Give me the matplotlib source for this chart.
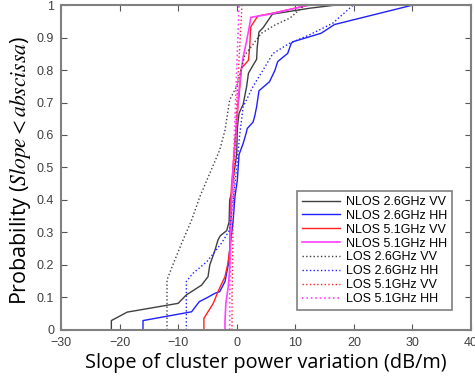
import matplotlib
matplotlib.use("Agg")
import matplotlib.pyplot as plt

plt.rcParams['font.family'] = ['Liberation Sans', 'DejaVu Sans']
plt.rcParams['mathtext.fontset'] = 'stix'

# NLOS curves (solid)
nlos26vv_x = [-21.4, -21.4, -18.7, -10.0, -8.6, -6.0, -4.9, -4.6, -3.7, -3.2, -2.8, -1.7, -1.3,
              -1.2, -0.9, -0.5, 0.0, 0.1, 0.4, 1.1, 1.4, 1.7, 2.0, 2.8, 3.4, 3.5, 3.8, 4.5, 6.1, 12.4, 17.0]
nlos26vv_y = [0, 0.029, 0.055, 0.082, 0.108, 0.138, 0.164, 0.2, 0.246, 0.277, 0.29, 0.306, 0.333,
              0.4, 0.42, 0.48, 0.54, 0.62, 0.667, 0.694, 0.722, 0.75, 0.79, 0.815, 0.833, 0.87, 0.917, 0.93, 0.972, 0.99, 1.0]

nlos26hh_x = [-16.0, -16.0, -7.7, -6.4, -5.0, -3.7, -2.9, -2.0, -1.45, -1.2, -0.6, -0.3, 0.1, 0.4, 1.1,
              1.6, 1.8, 2.8, 3.1, 3.4, 3.8, 5.6, 6.5, 7.0, 8.7, 9.3, 9.6, 14.4, 16.7, 30.1]
nlos26hh_y = [0, 0.029, 0.056, 0.087, 0.1, 0.113, 0.118, 0.149, 0.2, 0.246, 0.338, 0.41, 0.46, 0.54, 0.574,
              0.605, 0.62, 0.64, 0.66, 0.687, 0.736, 0.764, 0.798, 0.826, 0.851, 0.882, 0.887, 0.913, 0.94, 1.0]

nlos51vv_x = [-5.6, -5.6, -4.0, -3.2, -2.0, -1.5, -1.2, -1.1, -0.9, -0.6, -0.3, 0.0, 0.1, 0.4, 0.8,
              2.0, 2.2, 2.4, 3.6, 5.9, 12.4]
nlos51vv_y = [0, 0.036, 0.082, 0.118, 0.164, 0.205, 0.246, 0.35, 0.44, 0.51, 0.585, 0.626, 0.667, 0.72, 0.805,
              0.83, 0.867, 0.933, 0.966, 0.974, 1.0]

nlos51hh_x = [-2.0, -2.0, -1.85, -1.45, -1.2, -0.9, -0.6, -0.3, 0.0, 0.3, 0.7, 1.1, 1.7, 2.2, 2.4, 5.7, 12.4]
nlos51hh_y = [0, 0.03, 0.082, 0.133, 0.185, 0.4, 0.5, 0.57, 0.646, 0.72, 0.79, 0.84, 0.89, 0.938, 0.962, 0.972, 1.0]

# LOS curves (dotted)
los26vv_x = [-11.9, -11.9, -10.8, -9.4, -7.7, -6.3, -4.6, -2.9, -2.0, -1.2, 0.0, 1.4, 4.2, 6.5, 9.1, 11.6]
los26vv_y = [0, 0.154, 0.205, 0.267, 0.338, 0.41, 0.482, 0.554, 0.615, 0.708, 0.75, 0.846, 0.913, 0.938, 0.96, 1.0]

los26hh_x = [-8.6, -8.6, -7.5, -5.1, -2.6, -1.2, -0.6, 0.0, 0.5, 1.1, 2.8, 4.5, 6.2, 9.0, 12.4, 16.4, 19.9]
los26hh_y = [0, 0.149, 0.174, 0.21, 0.267, 0.308, 0.4, 0.5, 0.6, 0.687, 0.75, 0.8, 0.851, 0.882, 0.908, 0.944, 1.0]

los51vv_x = [-0.8, -0.8, -0.6, -0.3, 0.0, 0.3, 0.6, 0.9]
los51vv_y = [0, 0.1, 0.35, 0.55, 0.7, 0.8, 0.9, 1.0]

los51hh_x = [-1.2, -1.2, -1.0, -0.6, -0.2, 0.1, 0.4]
los51hh_y = [0, 0.1, 0.3, 0.5, 0.7, 0.85, 1.0]

labels = ['NLOS 2.6GHz VV', 'NLOS 2.6GHz HH', 'NLOS 5.1GHz VV', 'NLOS 5.1GHz HH',
          'LOS 2.6GHz VV', 'LOS 2.6GHz HH', 'LOS 5.1GHz VV', 'LOS 5.1GHz HH']

fig = plt.figure(figsize=(4.75, 3.79), dpi=100)
ax = fig.add_axes([0.1284, 0.1293, 0.8632, 0.8575])

ax.plot(nlos26vv_x, nlos26vv_y, '-', color='#404040', lw=1.0, label=labels[0])
ax.plot(nlos26hh_x, nlos26hh_y, '-', color='#2020ff', lw=1.0, label=labels[1])
ax.plot(nlos51vv_x, nlos51vv_y, '-', color='#ff2020', lw=1.0, label=labels[2])
ax.plot(nlos51hh_x, nlos51hh_y, '-', color='#ff40ff', lw=1.2, label=labels[3])
ax.plot(los26vv_x, los26vv_y, ':', color='#404040', lw=1.0, label=labels[4])
ax.plot(los26hh_x, los26hh_y, ':', color='#2020ff', lw=1.0, label=labels[5])
ax.plot(los51vv_x, los51vv_y, ':', color='#ff2020', lw=1.0, label=labels[6])
ax.plot(los51hh_x, los51hh_y, ':', color='#ff40ff', lw=1.2, label=labels[7])

ax.set_xlim(-30, 40)
ax.set_ylim(0, 1)
ax.set_xticks(range(-30, 41, 10))
ax.set_yticks([i / 10 for i in range(11)])
ax.set_yticklabels(['0', '0.1', '0.2', '0.3', '0.4', '0.5', '0.6', '0.7', '0.8', '0.9', '1'])
ax.tick_params(direction='in', top=True, right=True, length=4, width=0.8,
               colors='#555555', labelsize=9, labelcolor='#404040')
ax.tick_params(axis='y', pad=5)
ax.tick_params(axis='x', pad=5)
for s in ax.spines.values():
    s.set_color('#808080')
    s.set_linewidth(1.5)

ax.set_xlabel('Slope of cluster power variation (dB/m)', family='Open Sans', fontsize=14.3, labelpad=3)
ax.set_ylabel(r'Probability ($\mathit{Slope} < \mathit{abscissa}$)', family='Open Sans', fontsize=15.5)
ax.yaxis.set_label_coords(-0.068, 0.49)

leg = ax.legend(loc='upper left', bbox_to_anchor=(0.576, 0.428), fontsize=9,
                handlelength=3.0, labelspacing=0.15, borderpad=0.4, handletextpad=0.5,
                fancybox=False, framealpha=1, edgecolor='#808080', borderaxespad=0)
leg.get_frame().set_linewidth(1.2)

fig.savefig('out.png', dpi=100)
